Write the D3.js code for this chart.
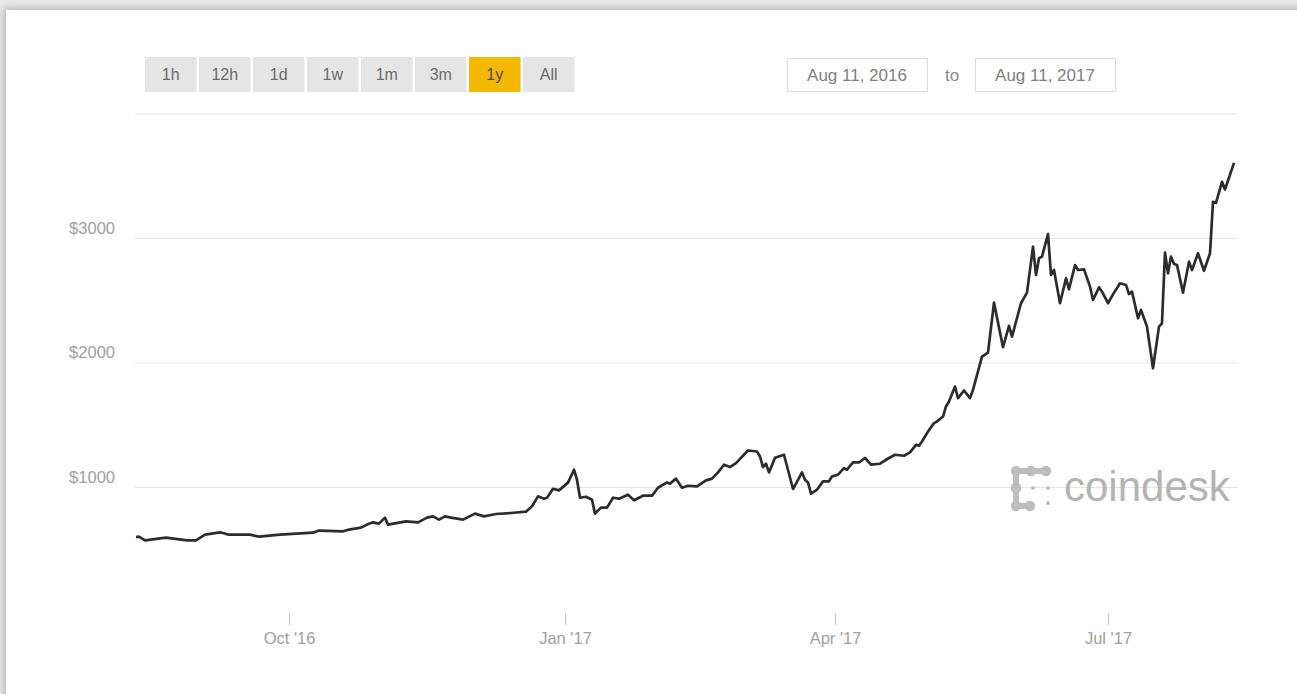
<!DOCTYPE html>
<html>
<head>
<meta charset="utf-8">
<script src="https://cdn.jsdelivr.net/npm/d3@7"></script>
<style>
  html, body { margin: 0; padding: 0; width: 1297px; height: 694px; overflow: hidden; background: #e9e9e9; }
  #card { position: absolute; left: 6px; top: 10px; width: 1400px; height: 800px; background: #fff;
          box-shadow: 0 0 7px 2px rgba(0,0,0,0.22); }
  svg { position: absolute; left: 0; top: 0; }
  text { font-family: "Liberation Sans", Arial, sans-serif; }
</style>
</head>
<body>
<div id="card"></div>
<svg id="chart" width="1297" height="694"></svg>
<script>
// ---- data ----
const rangeButtons = ["1h", "12h", "1d", "1w", "1m", "3m", "1y", "All"];
const activeRange = "1y";
const dateFrom = "Aug 11, 2016";
const dateTo = "Aug 11, 2017";
const yTickValues = [1000, 2000, 3000, 4000];
const yTickLabels = ["$1000", "$2000", "$3000", ""];
const xTickDates = ["2016-10-01", "2017-01-01", "2017-04-01", "2017-07-01"];
const xTickLabels = ["Oct '16", "Jan '17", "Apr '17", "Jul '17"];
const dates = [
"2016-08-11","2016-08-12","2016-08-14","2016-08-21","2016-08-28","2016-08-31","2016-09-03","2016-09-08","2016-09-11","2016-09-18",
"2016-09-21","2016-09-28","2016-10-09","2016-10-11","2016-10-19","2016-10-21","2016-10-25","2016-10-27","2016-10-29","2016-10-31",
"2016-11-02","2016-11-03","2016-11-09","2016-11-13","2016-11-16","2016-11-18","2016-11-20","2016-11-22","2016-11-24","2016-11-28",
"2016-12-02","2016-12-05","2016-12-09","2016-12-14","2016-12-19","2016-12-21","2016-12-23","2016-12-25","2016-12-26","2016-12-28",
"2016-12-30","2017-01-02","2017-01-04","2017-01-05","2017-01-06","2017-01-08","2017-01-10","2017-01-11","2017-01-13","2017-01-15",
"2017-01-17","2017-01-19","2017-01-22","2017-01-24","2017-01-27","2017-01-30","2017-02-01","2017-02-04","2017-02-05","2017-02-07",
"2017-02-09","2017-02-11","2017-02-14","2017-02-17","2017-02-19","2017-02-21","2017-02-23","2017-02-25","2017-02-27","2017-03-03",
"2017-03-06","2017-03-07","2017-03-08","2017-03-09","2017-03-10","2017-03-12","2017-03-15","2017-03-18","2017-03-19","2017-03-21",
"2017-03-22","2017-03-23","2017-03-24","2017-03-26","2017-03-28","2017-03-30","2017-03-31","2017-04-02","2017-04-04","2017-04-05",
"2017-04-07","2017-04-09","2017-04-11","2017-04-13","2017-04-16","2017-04-19","2017-04-21","2017-04-24","2017-04-26","2017-04-28",
"2017-04-29","2017-04-30","2017-05-02","2017-05-04","2017-05-05","2017-05-07","2017-05-08","2017-05-09","2017-05-11","2017-05-12",
"2017-05-14","2017-05-16","2017-05-17","2017-05-20","2017-05-22","2017-05-24","2017-05-27","2017-05-29","2017-05-30","2017-06-02",
"2017-06-04","2017-06-06","2017-06-07","2017-06-08","2017-06-09","2017-06-11","2017-06-12","2017-06-13","2017-06-15","2017-06-17",
"2017-06-18","2017-06-20","2017-06-21","2017-06-23","2017-06-25","2017-06-26","2017-06-28","2017-06-29","2017-07-01","2017-07-03",
"2017-07-05","2017-07-07","2017-07-08","2017-07-09","2017-07-11","2017-07-12","2017-07-14","2017-07-16","2017-07-18","2017-07-19",
"2017-07-20","2017-07-21","2017-07-22","2017-07-23","2017-07-24","2017-07-26","2017-07-28","2017-07-29","2017-07-31","2017-08-02",
"2017-08-04","2017-08-05","2017-08-06","2017-08-08","2017-08-09","2017-08-12"
];
const prices = [
598,601,572,593,572,572,617,636,617,617,
601,617,633,650,644,658,674,698,716,706,
754,698,724,716,754,764,738,764,754,738,
786,764,783,791,802,845,925,906,914,986,
973,1035,1139,1059,914,922,898,786,834,834,
914,906,938,893,930,930,994,1037,1027,1067,
994,1010,1005,1053,1067,1117,1179,1160,1192,1293,
1285,1245,1160,1187,1117,1235,1259,984,1027,1117,
1059,1037,946,978,1045,1045,1085,1099,1152,1139,
1197,1197,1233,1179,1187,1233,1259,1251,1278,1339,
1331,1366,1446,1513,1526,1566,1647,1687,1807,1714,
1775,1714,1780,2048,2080,2481,2123,2294,2208,2476,
2561,2930,2703,2837,2850,3032,2703,2743,2476,2676,
2588,2783,2743,2748,2609,2502,2604,2569,2476,2561,
2636,2623,2550,2569,2355,2422,2288,1954,2288,2315,
2882,2716,2850,2791,2783,2561,2810,2743,2877,2737,
2877,3290,3283,3451,3390,3603
];
const xDomain = ["2016-08-11", "2017-08-12"];
const yDomain = [0, 4000];

// ---- drawing ----
const parse = d3.timeParse("%Y-%m-%d");
const data = dates.map((d, i) => ({ date: parse(d), value: prices[i] }));
const svg = d3.select("#chart");

const plot = { left: 136, right: 1234, top: 113.5, bottom: 611.5 };
const x = d3.scaleTime().domain(xDomain.map(parse)).range([plot.left, plot.right]);
const y = d3.scaleLinear().domain(yDomain).range([plot.bottom, plot.top]);

// y gridlines + labels
const yAxis = d3.axisLeft(y).tickValues(yTickValues)
  .tickSize(-(1238 - 135))
  .tickFormat((d, i) => yTickLabels[i]);
const gy = svg.append("g").attr("transform", "translate(135,0)").call(yAxis);
gy.select(".domain").remove();
gy.selectAll(".tick line").attr("stroke", "#e4e4e4").attr("stroke-width", 1.2);
gy.selectAll(".tick text").attr("x", -20).attr("y", -5).attr("dy", 0)
  .attr("fill", "#a0a0a0").style("font-size", "16.5px");

// x axis ticks
const xAxis = d3.axisBottom(x).tickValues(xTickDates.map(parse))
  .tickSize(12).tickPadding(7)
  .tickFormat((d, i) => xTickLabels[i]);
const gx = svg.append("g").attr("transform", "translate(0,613)").call(xAxis);
gx.select(".domain").remove();
gx.selectAll(".tick line").attr("stroke", "#c8c8c8");
gx.selectAll(".tick text").attr("fill", "#a0a0a0").style("font-size", "16.5px");

// coindesk logo (beaded mark + wordmark)
const logo = svg.append("g").attr("fill", "#bdbdbd");
logo.append("path").attr("fill", "none").attr("stroke", "#bdbdbd").attr("stroke-width", 6)
  .attr("stroke-linecap", "round").attr("d", "M1046,471 L1016,471 L1016,506 L1030,506");
[[1016,471],[1031,471],[1046,471],[1016,488],[1016,506],[1030,506]].forEach(p =>
  logo.append("circle").attr("cx", p[0]).attr("cy", p[1]).attr("r", 5.2));
[[1033,488],[1048,488],[1048,503]].forEach(p =>
  logo.append("circle").attr("cx", p[0]).attr("cy", p[1]).attr("r", 2));
svg.append("text").attr("x", 1064).attr("y", 501).attr("fill", "#b3b3b3")
  .style("font-size", "42px").text("coindesk");

// price line
const line = d3.line().x(d => x(d.date)).y(d => y(d.value));
svg.append("path").datum(data).attr("d", line)
  .attr("fill", "none").attr("stroke", "#2c2c2c").attr("stroke-width", 2.7)
  .attr("stroke-linejoin", "round");

// range buttons
const btnW = 51.5, btnPitch = 54, btnX0 = 145, btnY = 57, btnH = 35;
const btn = svg.append("g").selectAll("g").data(rangeButtons).join("g")
  .attr("transform", (d, i) => `translate(${btnX0 + i * btnPitch},${btnY})`);
btn.append("rect").attr("width", btnW).attr("height", btnH)
  .attr("fill", d => d === activeRange ? "#f4b800" : "#e5e5e5");
btn.append("text").attr("x", btnW / 2).attr("y", btnH / 2).attr("dy", "0.36em")
  .attr("text-anchor", "middle").style("font-size", "16px")
  .attr("fill", d => d === activeRange ? "#4a4a4a" : "#6a6a6a").text(d => d);

// date range boxes
const boxes = [{ label: dateFrom, x: 787 }, { label: dateTo, x: 975 }];
const bx = svg.append("g").selectAll("g").data(boxes).join("g")
  .attr("transform", d => `translate(${d.x},58)`);
bx.append("rect").attr("x", 0.5).attr("y", 0.5).attr("width", 140).attr("height", 33)
  .attr("fill", "#fff").attr("stroke", "#dcdcdc");
bx.append("text").attr("x", 70).attr("y", 17).attr("dy", "0.36em").attr("text-anchor", "middle")
  .style("font-size", "17px").attr("fill", "#808080").text(d => d.label);
svg.append("text").attr("x", 952).attr("y", 75).attr("dy", "0.36em").attr("text-anchor", "middle")
  .style("font-size", "17px").attr("fill", "#8a8a8a").text("to");
</script>
</body>
</html>
